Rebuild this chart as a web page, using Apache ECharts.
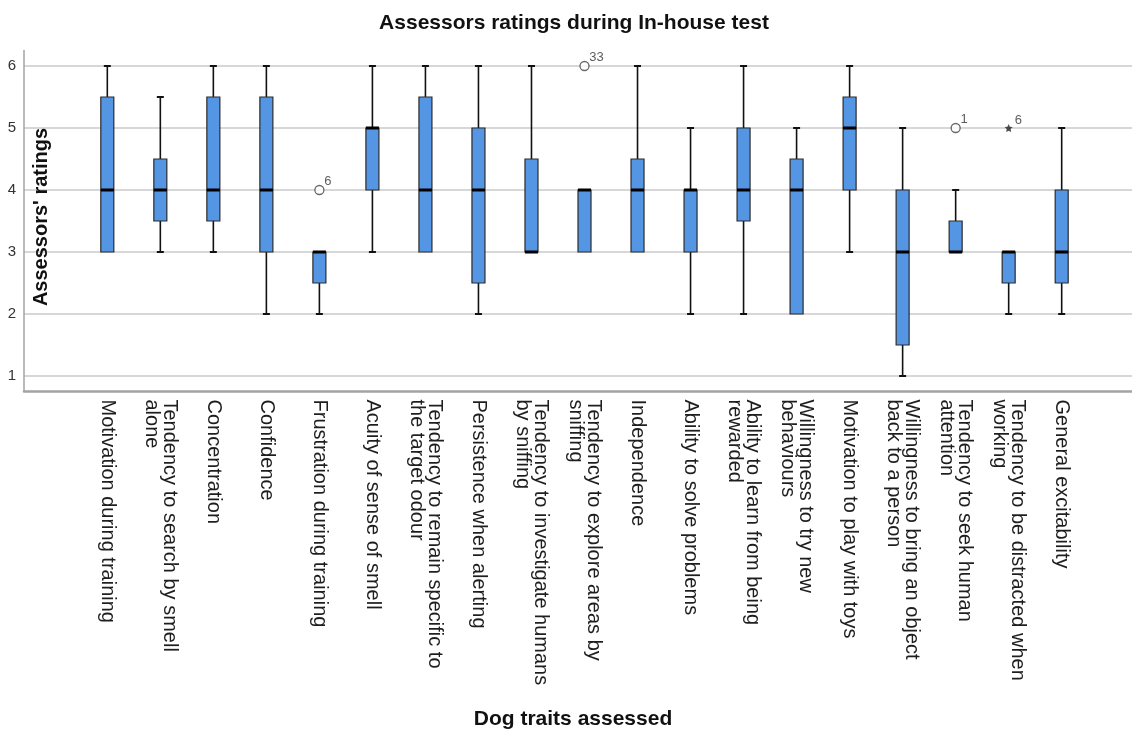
<!DOCTYPE html>
<html>
<head>
<meta charset="utf-8">
<script src="https://cdn.jsdelivr.net/npm/echarts@6/dist/echarts.min.js"></script>
<style>
  html, body { margin: 0; padding: 0; background: #ffffff; }
  #chart { width: 1132px; height: 733px; }
</style>
</head>
<body>
<div id="chart"></div>
<script>
// Traits rated by the assessors (x categories)
const categories = [
  'Motivation during training',
  'Tendency to search by smell\nalone',
  'Concentration',
  'Confidence',
  'Frustration during training',
  'Acuity of sense of smell',
  'Tendency to remain specific to\nthe target odour',
  'Persistence when alerting',
  'Tendency to investigate humans\nby sniffing',
  'Tendency to explore areas by\nsniffing',
  'Independence',
  'Ability to solve problems',
  'Ability to learn from being\nrewarded',
  'Willingness to try new\nbehaviours',
  'Motivation to play with toys',
  'Willingness to bring an object\nback to a person',
  'Tendency to seek human\nattention',
  'Tendency to be distracted when\nworking',
  'General excitability'
];

// Five-number summaries per trait
const lowWhisker  = [3, 3,   3,   2,   2,   3, 3,   2,   3,   3, 3,   2, 2,   2,   3,   1,   3,   2,   2];
const q1          = [3, 3.5, 3.5, 3,   2.5, 4, 3,   2.5, 3,   3, 3,   3, 3.5, 2,   4,   1.5, 3,   2.5, 2.5];
const medians     = [4, 4,   4,   4,   3,   5, 4,   4,   3,   4, 4,   4, 4,   4,   5,   3,   3,   3,   3];
const q3          = [5.5, 4.5, 5.5, 5.5, 3, 5, 5.5, 5,   4.5, 4, 4.5, 4, 5,   4.5, 5.5, 4,   3.5, 3,   4];
const highWhisker = [6, 5.5, 6,   6,   3,   6, 6,   6,   6,   4, 6,   5, 6,   5,   6,   5,   4,   3,   5];

// Outliers (o) and extreme values (*) with their case numbers
const outlierCats   = [4, 9, 16, 17];
const outlierValues = [4, 6, 5, 5];
const outlierCases  = ['6', '33', '1', '6'];
const outlierKinds  = ['circle', 'circle', 'circle', 'star'];

// Rating scale ticks
const yTicks = [1, 2, 3, 4, 5, 6];

const FONT = '"Liberation Sans", Arial, sans-serif';
const BOX_FILL = '#5596E4';
const STAR_PATH = 'path://M0,-10L2.9,-4L9.5,-3.1L4.7,1.5L5.9,8.1L0,5L-5.9,8.1L-4.7,1.5L-9.5,-3.1L-2.9,-4Z';

const boxData = categories.map((c, i) => [i, lowWhisker[i], q1[i], medians[i], q3[i], highWhisker[i]]);

const outlierData = outlierCats.map((ci, k) => ({
  value: [ci, outlierValues[k]],
  symbol: outlierKinds[k] === 'star' ? STAR_PATH : 'circle',
  symbolSize: outlierKinds[k] === 'star' ? 8 : 9,
  itemStyle: outlierKinds[k] === 'star'
    ? { color: '#222', borderWidth: 0 }
    : { color: '#ffffff', borderColor: '#444', borderWidth: 1.3 },
  label: { formatter: outlierCases[k] }
}));

function renderBox(params, api) {
  const idx = api.value(0);
  const x = api.coord([idx, 0])[0];
  const yLo = api.coord([idx, api.value(1)])[1];
  const yQ1 = api.coord([idx, api.value(2)])[1];
  const yMed = api.coord([idx, api.value(3)])[1];
  const yQ3 = api.coord([idx, api.value(4)])[1];
  const yHi = api.coord([idx, api.value(5)])[1];
  const half = 6.5, cap = 3.5;
  const whisker = { stroke: '#111', lineWidth: 1.6 };
  const children = [];
  if (yLo - yQ1 > 0.5) {
    children.push({ type: 'line', shape: { x1: x, y1: yQ1, x2: x, y2: yLo }, style: whisker });
    children.push({ type: 'line', shape: { x1: x - cap, y1: yLo, x2: x + cap, y2: yLo }, style: { stroke: '#111', lineWidth: 2 } });
  }
  if (yQ3 - yHi > 0.5) {
    children.push({ type: 'line', shape: { x1: x, y1: yHi, x2: x, y2: yQ3 }, style: whisker });
    children.push({ type: 'line', shape: { x1: x - cap, y1: yHi, x2: x + cap, y2: yHi }, style: { stroke: '#111', lineWidth: 2 } });
  }
  children.push({
    type: 'rect',
    shape: { x: x - half, y: yQ3, width: half * 2, height: Math.max(yQ1 - yQ3, 0) },
    style: { fill: BOX_FILL, stroke: '#2b2b2b', lineWidth: 1.2 }
  });
  children.push({
    type: 'line',
    shape: { x1: x - half, y1: yMed, x2: x + half, y2: yMed },
    style: { stroke: '#000', lineWidth: 3 }
  });
  return { type: 'group', children };
}

const chart = echarts.init(document.getElementById('chart'), null, { renderer: 'canvas' });

chart.setOption({
  backgroundColor: '#ffffff',
  animation: false,
  textStyle: { fontFamily: FONT },
  title: [
    {
      text: 'Assessors ratings during In-house test',
      left: 574, top: 13, padding: 0, textAlign: 'center',
      textStyle: { fontFamily: FONT, fontSize: 21, fontWeight: 'bold', color: '#111' }
    },
    {
      text: 'Dog traits assessed',
      left: 573, top: 709, padding: 0, textAlign: 'center',
      textStyle: { fontFamily: FONT, fontSize: 21, fontWeight: 'bold', color: '#111' }
    }
  ],
  graphic: [
    {
      type: 'text', x: 41, y: 217, rotation: Math.PI / 2, z: 10,
      style: {
        text: "Assessors' ratings", fontFamily: FONT, fontSize: 20, fontWeight: 'bold',
        fill: '#111', align: 'center', verticalAlign: 'middle'
      }
    }
  ],
  grid: [
    { left: 24, right: 0, top: 50.5, bottom: 341.5 },
    { left: 80.8, right: 43.8, top: 50.5, bottom: 341.5 }
  ],
  xAxis: [
    {
      type: 'value', gridIndex: 0, min: 0, max: 1,
      axisLine: { show: true, lineStyle: { color: '#a3a3a3', width: 2.5 } },
      axisTick: { show: false }, axisLabel: { show: false }, splitLine: { show: false }
    },
    {
      type: 'category', gridIndex: 1, data: categories, boundaryGap: true,
      axisLine: { show: false }, axisTick: { show: false }, splitLine: { show: false },
      axisLabel: {
        interval: 0, rotate: -90, margin: 8, fontFamily: FONT, fontSize: 20,
        lineHeight: 18, color: '#1e1e1e'
      }
    }
  ],
  yAxis: [
    {
      type: 'value', gridIndex: 0, min: 0.75, max: 6.25,
      axisLine: { show: true, lineStyle: { color: '#a3a3a3', width: 1.5 } },
      axisTick: { show: false, customValues: yTicks },
      axisLabel: { customValues: yTicks, margin: 8, fontFamily: FONT, fontSize: 15, color: '#333' },
      splitLine: { show: true, lineStyle: { color: '#cacaca', width: 1.5 } }
    },
    {
      type: 'value', gridIndex: 1, min: 0.75, max: 6.25, show: false,
      splitLine: { show: false }
    }
  ],
  series: [
    {
      type: 'custom', name: 'ratings', xAxisIndex: 1, yAxisIndex: 1,
      renderItem: renderBox, data: boxData,
      encode: { x: 0, y: [1, 2, 3, 4, 5] }, z: 3
    },
    {
      type: 'scatter', name: 'outliers', xAxisIndex: 1, yAxisIndex: 1,
      data: outlierData, z: 4,
      label: {
        show: true, position: [10, -10], fontFamily: FONT, fontSize: 13, color: '#333'
      }
    }
  ]
});
</script>
</body>
</html>
